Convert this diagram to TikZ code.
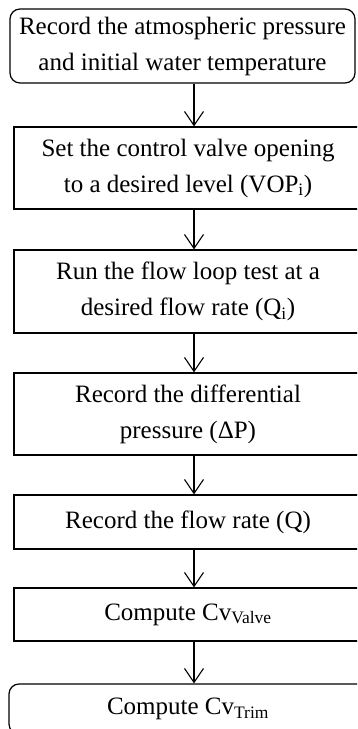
\documentclass[tikz,border=0pt]{standalone}
\usepackage{fontspec}
\setmainfont{Liberation Serif}
\usetikzlibrary{arrows.meta}

\tikzset{
	stepbox/.style={draw, line width=1.2pt, align=center, inner sep=0pt,
		font=\fontsize{25}{36}\selectfont, minimum width=348pt},
	endbox/.style={stepbox, rounded corners=10pt},
	flow/.style={line width=1.1pt, -{Straight Barb[length=14pt,width=19pt]}}
}

\begin{document}
\begin{tikzpicture}[x=1pt, y=-1pt]
	\useasboundingbox (0,0) rectangle (357,729);
	\clip (0,0) rectangle (357,729);

	\node [endbox, minimum width=345pt, minimum height=74pt] (1) at (182.5,46)
		{Record the atmospheric pressure\\and initial water temperature};
	\node [stepbox, minimum height=82pt] (2) at (188,168)
		{Set the control valve opening\\to a desired level (VOP\textsubscript{i})};
	\node [stepbox, minimum height=83pt] (3) at (188,291.5)
		{Run the flow loop test at a\\desired flow rate (Q\textsubscript{i})};
	\node [stepbox, minimum height=82pt] (4) at (188,414)
		{Record the differential\\pressure (ΔP)};
	\node [stepbox, minimum height=54pt] (5) at (188,522)
		{Record the flow rate (Q)};
	\node [stepbox, minimum height=53pt] (6) at (188,614.5)
		{Compute Cv\textsubscript{Valve}};
	\node [endbox, minimum width=358pt, minimum height=50pt] (7) at (188,709)
		{Compute Cv\textsubscript{Trim}};

	\coordinate (ax) at (194,0);

	\path [flow]
	(1.south -| ax) edge (2.north -| ax)
	(2.south -| ax) edge (3.north -| ax)
	(3.south -| ax) edge (4.north -| ax)
	(4.south -| ax) edge (5.north -| ax)
	(5.south -| ax) edge (6.north -| ax)
	(6.south -| ax) edge (7.north -| ax);
\end{tikzpicture}
\end{document}
